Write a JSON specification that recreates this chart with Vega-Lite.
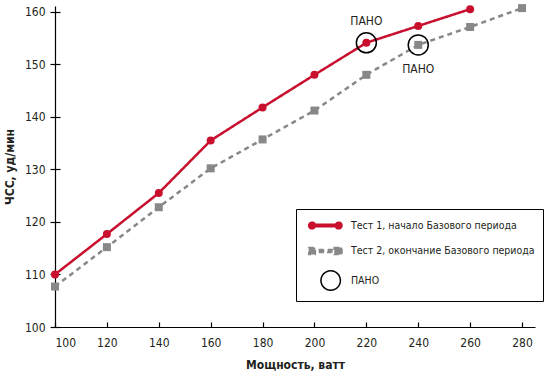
{
  "$schema": "https://vega.github.io/schema/vega-lite/v6.json",
  "width": 480,
  "height": 321,
  "autosize": {"type": "none"},
  "padding": {"left": 55, "top": 6, "right": 11, "bottom": 50},
  "config": {
    "font": "DejaVu Sans Condensed, Liberation Sans",
    "view": {"stroke": null},
    "axis": {
      "domainColor": "#000",
      "tickColor": "#000",
      "labelColor": "#231f20",
      "titleColor": "#231f20",
      "labelFontSize": 12,
      "titleFontSize": 12,
      "titleFontWeight": "bold",
      "grid": false,
      "domainWidth": 1.2,
      "tickWidth": 1.2
    }
  },
  "datasets": {
    "hr": [
      {"power": 100, "hr": 110.0, "series": "Тест 1, начало Базового периода"},
      {"power": 120, "hr": 117.7, "series": "Тест 1, начало Базового периода"},
      {"power": 140, "hr": 125.5, "series": "Тест 1, начало Базового периода"},
      {"power": 160, "hr": 135.5, "series": "Тест 1, начало Базового периода"},
      {"power": 180, "hr": 141.8, "series": "Тест 1, начало Базового периода"},
      {"power": 200, "hr": 148.0, "series": "Тест 1, начало Базового периода"},
      {"power": 220, "hr": 154.1, "series": "Тест 1, начало Базового периода"},
      {"power": 240, "hr": 157.3, "series": "Тест 1, начало Базового периода"},
      {"power": 260, "hr": 160.5, "series": "Тест 1, начало Базового периода"},
      {"power": 100, "hr": 107.7, "series": "Тест 2, окончание Базового периода"},
      {"power": 120, "hr": 115.2, "series": "Тест 2, окончание Базового периода"},
      {"power": 140, "hr": 122.8, "series": "Тест 2, окончание Базового периода"},
      {"power": 160, "hr": 130.2, "series": "Тест 2, окончание Базового периода"},
      {"power": 180, "hr": 135.7, "series": "Тест 2, окончание Базового периода"},
      {"power": 200, "hr": 141.2, "series": "Тест 2, окончание Базового периода"},
      {"power": 220, "hr": 148.0, "series": "Тест 2, окончание Базового периода"},
      {"power": 240, "hr": 153.7, "series": "Тест 2, окончание Базового периода"},
      {"power": 260, "hr": 157.1, "series": "Тест 2, окончание Базового периода"},
      {"power": 280, "hr": 160.7, "series": "Тест 2, окончание Базового периода"}
    ],
    "pano": [
      {"power": 220, "hr": 154.1, "label": "ПАНО", "pos": "above"},
      {"power": 240, "hr": 153.7, "label": "ПАНО", "pos": "below"}
    ]
  },
  "resolve": {"axis": {"y": "independent", "x": "independent"}},
  "layer": [
    {
      "data": {"name": "hr"},
      "mark": {"type": "line", "strokeWidth": 2.5},
      "encoding": {
        "x": {
          "field": "power", "type": "quantitative",
          "scale": {"domain": [100, 285], "nice": false, "zero": false},
          "axis": {
            "orient": "bottom",
            "values": [100, 120, 140, 160, 180, 200, 220, 240, 260, 280],
            "title": "Мощность, ватт",
            "tickSize": -5,
            "labelPadding": 15,
            "titlePadding": 11
          }
        },
        "y": {
          "field": "hr", "type": "quantitative",
          "scale": {"domain": [100, 161.1], "nice": false, "zero": false},
          "axis": {
            "orient": "left",
            "values": [100, 110, 120, 130, 140, 150, 160],
            "title": "ЧСС, уд/мин",
            "tickSize": 5,
            "labelPadding": 5,
            "titlePadding": 8
          }
        },
        "color": {
          "field": "series", "type": "nominal",
          "scale": {
            "domain": ["Тест 1, начало Базового периода", "Тест 2, окончание Базового периода", "ПАНО"],
            "range": ["#c8102e", "#888888", "#000000"]
          },
          "legend": {
            "orient": "none",
            "legendX": 241,
            "legendY": 203,
            "title": null,
            "strokeColor": "#000",
            "fillColor": "#ffffff",
            "padding": 7.5,
            "symbolSize": 256,
            "labelOffset": 29.5,
            "rowPadding": 9.5,
            "labelLimit": 400,
            "labelFontSize": 10.5,
            "labelColor": "#231f20",
            "encode": {
              "symbols": {
                "update": {
                  "shape": {"signal": "datum.value === 'ПАНО' ? 'M 3.4925 0 L 3.4509 0.3157 L 3.329 0.61 L 3.1352 0.8627 L 2.8825 1.0565 L 2.5882 1.1784 L 2.2725 1.22 L 1.9568 1.1784 L 1.6625 1.0565 L 1.4098 0.8627 L 1.216 0.61 L 1.0941 0.3157 L 1.0525 0 L 1.0941 -0.3157 L 1.216 -0.61 L 1.4098 -0.8627 L 1.6625 -1.0565 L 1.9568 -1.1784 L 2.2725 -1.22 L 2.5882 -1.1784 L 2.8825 -1.0565 L 3.1352 -0.8627 L 3.329 -0.61 L 3.4509 -0.3157 Z' : (datum.value === 'Тест 2, окончание Базового периода' ? 'M -0.4775 -0.44 H 0.3525 V 0.44 H -0.4775 Z M 0.7725 -0.19 H 1.4725 V 0.19 H 0.7725 Z M 1.9025 -0.19 H 2.5225 V 0.19 H 1.9025 Z M 2.7225 -0.44 H 3.6875 V 0.44 H 2.7225 Z' : 'M -0.0575 -0.15 L 3.2675 -0.15 L 3.2675 0.15 L -0.0575 0.15 Z M -0.4775 0 A 0.42 0.42 0 1 1 0.3625 0 A 0.42 0.42 0 1 1 -0.4775 0 Z M 2.8475 0 A 0.42 0.42 0 1 1 3.6875 0 A 0.42 0.42 0 1 1 2.8475 0 Z')"},
                  "fill": {"signal": "datum.value === 'ПАНО' ? 'transparent' : (datum.value === 'Тест 2, окончание Базового периода' ? '#888888' : '#c8102e')"},
                  "stroke": {"signal": "datum.value === 'ПАНО' ? '#000000' : 'transparent'"},
                  "strokeWidth": {"value": 1.5},
                  "strokeDash": {"value": [1, 0]},
                  "opacity": {"value": 1},
                  "fillOpacity": {"value": 1}
                }
              }
            }
          }
        },
        "strokeDash": {
          "field": "series", "type": "nominal",
          "scale": {
            "domain": ["Тест 1, начало Базового периода", "Тест 2, окончание Базового периода", "ПАНО"],
            "range": [[1, 0], [5, 4], [1, 0]]
          },
          "legend": null
        }
      }
    },
    {
      "data": {"name": "hr"},
      "mark": {"type": "point", "filled": true, "opacity": 1, "size": 64, "strokeWidth": 0},
      "encoding": {
        "x": {"field": "power", "type": "quantitative", "axis": null},
        "y": {"field": "hr", "type": "quantitative", "axis": null},
        "fill": {
          "field": "series", "type": "nominal",
          "scale": {
            "domain": ["Тест 1, начало Базового периода", "Тест 2, окончание Базового периода"],
            "range": ["#c8102e", "#888888"]
          },
          "legend": null
        },
        "shape": {
          "field": "series", "type": "nominal",
          "scale": {
            "domain": ["Тест 1, начало Базового периода", "Тест 2, окончание Базового периода"],
            "range": ["circle", "square"]
          },
          "legend": null
        }
      }
    },
    {
      "data": {"name": "pano"},
      "mark": {"type": "point", "shape": "circle", "filled": false, "size": 400, "stroke": "#000", "strokeWidth": 1.5, "opacity": 1},
      "encoding": {
        "x": {"field": "power", "type": "quantitative", "axis": null},
        "y": {
          "field": "hr", "type": "quantitative",
          "axis": {
            "orient": "left",
            "values": [100, 110, 120, 130, 140, 150, 160],
            "tickSize": -5,
            "labels": false,
            "domain": false,
            "title": null
          }
        }
      }
    },
    {
      "data": {"name": "pano"},
      "transform": [{"filter": "datum.pos === 'above'"}],
      "mark": {"type": "text", "dy": -22, "fontSize": 12, "color": "#231f20"},
      "encoding": {
        "x": {"field": "power", "type": "quantitative", "axis": null},
        "y": {"field": "hr", "type": "quantitative", "axis": null},
        "text": {"field": "label"}
      }
    },
    {
      "data": {"name": "pano"},
      "transform": [{"filter": "datum.pos === 'below'"}],
      "mark": {"type": "text", "dy": 24, "fontSize": 12, "color": "#231f20"},
      "encoding": {
        "x": {"field": "power", "type": "quantitative", "axis": null},
        "y": {"field": "hr", "type": "quantitative", "axis": null},
        "text": {"field": "label"}
      }
    }
  ]
}
